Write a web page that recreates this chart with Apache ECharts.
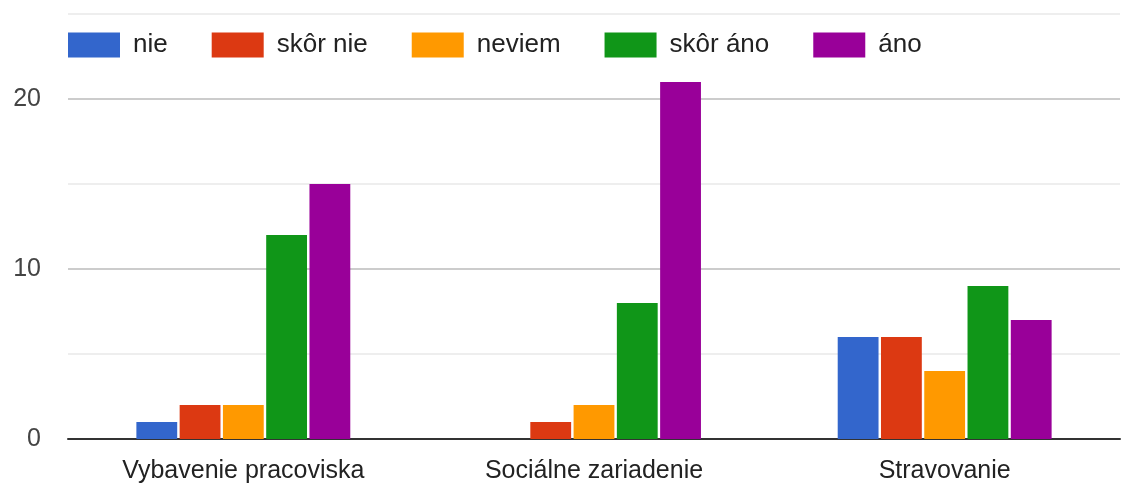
<!DOCTYPE html>
<html>
<head>
<meta charset="utf-8">
<script src="https://cdn.jsdelivr.net/npm/echarts@6/dist/echarts.min.js"></script>
<style>
  html, body { margin: 0; padding: 0; background: #fff; }
  #chart { width: 1130px; height: 486px; }
</style>
</head>
<body>
<div id="chart"></div>
<script>
const categories = ['Vybavenie pracoviska', 'Sociálne zariadenie', 'Stravovanie']
const seriesNames = ['nie', 'skôr nie', 'neviem', 'skôr áno', 'áno']
const nieData = [1, 0, 6]
const skorNieData = [2, 1, 6]
const neviemData = [2, 2, 4]
const skorAnoData = [12, 8, 9]
const anoData = [15, 21, 7]
const yTicks = [0, 10, 20]

const colors = ['#3366cc', '#dc3912', '#ff9900', '#109618', '#990099']
const allData = [nieData, skorNieData, neviemData, skorAnoData, anoData]
const font = '"Liberation Sans", Arial, sans-serif'

const chart = echarts.init(document.getElementById('chart'))

chart.setOption({
  animation: false,
  color: colors,
  textStyle: { fontFamily: font },
  legend: {
    left: 68,
    top: 32,
    padding: 0,
    itemWidth: 52,
    itemHeight: 25,
    itemGap: 44,
    icon: 'rect',
    textStyle: { fontSize: 26, color: '#222', fontFamily: font, padding: [0, 0, 0, 8] },
    data: seriesNames
  },
  grid: { left: 68, right: 10, top: 14, bottom: 47 },
  xAxis: {
    type: 'category',
    data: categories,
    axisTick: { show: false },
    axisLine: { lineStyle: { color: '#333', width: 2 } },
    axisLabel: { fontSize: 25, color: '#222', margin: 20, fontFamily: font }
  },
  yAxis: {
    type: 'value',
    min: 0,
    max: 25,
    interval: 5,
    axisLine: { show: false },
    axisTick: { show: false },
    axisLabel: {
      fontSize: 25,
      color: '#444',
      margin: 27,
      fontFamily: font,
      formatter: v => (yTicks.includes(v) ? String(v) : '')
    },
    splitLine: { lineStyle: { color: ['#cccccc', '#eeeeee'], width: 2 } }
  },
  series: seriesNames.map((name, i) => ({
    name,
    type: 'bar',
    data: allData[i],
    barGap: '6%',
    barCategoryGap: '39%'
  }))
})
</script>
</body>
</html>
